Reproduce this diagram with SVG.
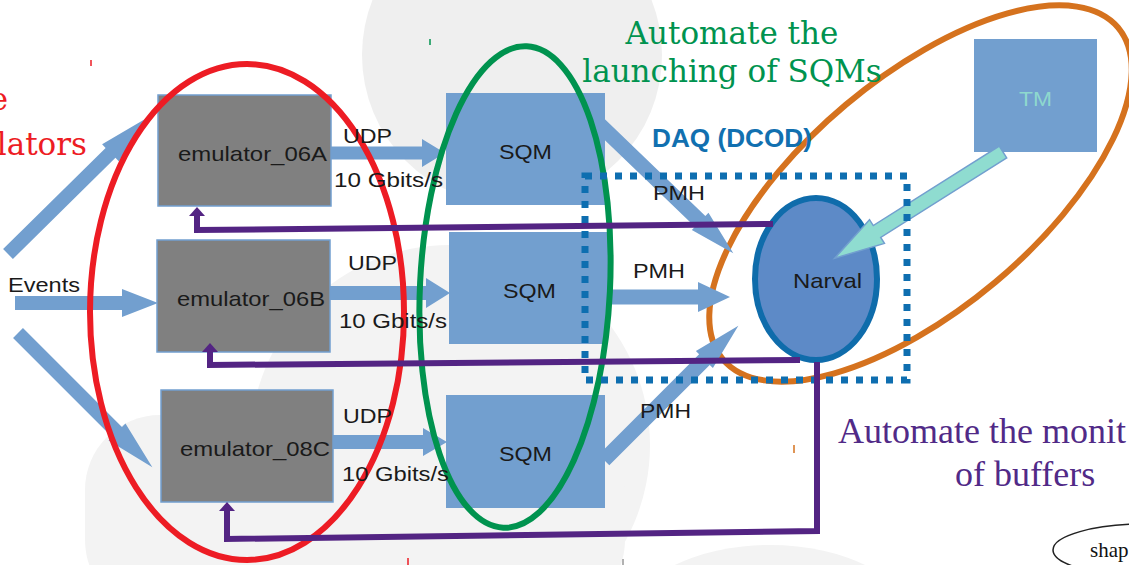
<svg xmlns="http://www.w3.org/2000/svg" width="1129" height="565" viewBox="0 0 1129 565">
<style>
.bg{fill:#f3f3f3}
.arr{fill:#729fcf}
.emu{fill:#808080;stroke:#729fcf;stroke-width:1.5}
.sqm{fill:#729fcf}
.lbl{font-family:"Liberation Sans",Arial,sans-serif;font-size:21px;fill:#1a1a1a}
.pur{fill:none;stroke:#532483;stroke-width:6}
.ser{font-family:"DejaVu Serif",serif;font-size:31px}
.tser{font-family:"Liberation Serif","Times New Roman",serif}
.tick{stroke-width:1.5}
</style>
<defs>
<marker id="ph" viewBox="0 -8 9 16" markerWidth="9" markerHeight="16" refX="0" refY="0" markerUnits="userSpaceOnUse" orient="auto">
<path d="M0,-8 L9,0 L0,8 Z" fill="#532483"/>
</marker>
</defs>
<rect width="1129" height="565" fill="#ffffff"/>
<g id="background">
<circle cx="512" cy="55" r="150" fill="#efefef"/>
<circle class="bg" cx="450" cy="445" r="200"/>
<rect class="bg" x="85" y="415" width="540" height="200" rx="75"/>
<ellipse class="bg" cx="770" cy="620" rx="140" ry="75"/>
</g>
<g id="orange-group">
<ellipse cx="920.5" cy="193.5" rx="258" ry="116" transform="rotate(-40 920.5 193.5)" fill="none" stroke="#d5721e" stroke-width="6"/>
</g>
<g id="connectors">
<path class="arr" d="M0,-7 H144 V-12 L192,0 L144,12 V7 H0 Z" transform="translate(8,254) rotate(-44.6)"/>
<path class="arr" d="M0,-7 H107 V-14 L143,0 L107,14 V7 H0 Z" transform="translate(15,303)"/>
<path class="arr" d="M0,-7 H140 V-12 L190,0 L140,12 V7 H0 Z" transform="translate(18,333) rotate(45)"/>
<path class="arr" d="M0,-6.5 H91 V-14 L114,0 L91,14 V6.5 H0 Z" transform="translate(331,153)"/>
<path class="arr" d="M0,-7 H96 V-15 L120,0 L96,15 V7 H0 Z" transform="translate(330,293)"/>
<path class="arr" d="M0,-7 H90 V-14 L114,0 L90,14 V7 H0 Z" transform="translate(333,442)"/>
<path class="arr" d="M0,-7.5 H139 V-12 L185,0 L139,12 V7.5 H0 Z" transform="translate(600,125) rotate(43.9)"/>
<path class="arr" d="M0,-7.5 H90 V-15 L122,0 L90,15 V7.5 H0 Z" transform="translate(608,297)"/>
<path class="arr" d="M0,-7.5 H142 V-12 L190,0 L142,12 V7.5 H0 Z" transform="translate(604,460) rotate(-45)"/>
</g>
<g id="emulator_06A"><rect class="emu" x="158" y="95" width="173" height="111"/><text class="lbl" x="178" y="161" textLength="149" lengthAdjust="spacingAndGlyphs">emulator_06A</text></g>
<g id="emulator_06B"><rect class="emu" x="157" y="240" width="173" height="112"/><text class="lbl" x="177" y="306" textLength="148" lengthAdjust="spacingAndGlyphs">emulator_06B</text></g>
<g id="emulator_08C"><rect class="emu" x="161" y="390" width="172" height="112"/><text class="lbl" x="180" y="456" textLength="150" lengthAdjust="spacingAndGlyphs">emulator_08C</text></g>
<g id="sqm_1"><rect class="sqm" x="446" y="93" width="159" height="112"/><text class="lbl" x="499" y="159" textLength="53" lengthAdjust="spacingAndGlyphs">SQM</text></g>
<g id="sqm_2"><rect class="sqm" x="449" y="232" width="159" height="112"/><text class="lbl" x="503" y="298" textLength="53" lengthAdjust="spacingAndGlyphs">SQM</text></g>
<g id="sqm_3"><rect class="sqm" x="446" y="395" width="159" height="113"/><text class="lbl" x="499" y="461" textLength="53" lengthAdjust="spacingAndGlyphs">SQM</text></g>
<g id="tm"><rect class="sqm" x="974" y="39" width="123" height="113"/><text x="1019" y="106" font-family="Liberation Sans, Arial, sans-serif" font-size="21" fill="#8ed8ce" textLength="33" lengthAdjust="spacingAndGlyphs">TM</text></g>
<g id="narval"><ellipse cx="816" cy="279" rx="61" ry="81" fill="#5d8ac7" stroke="#0f6cab" stroke-width="6"/><text class="lbl" x="793" y="288" textLength="69" lengthAdjust="spacingAndGlyphs">Narval</text></g>
<g id="tm-arrow">
<path d="M0,-7 H149 V-14 L199,0 L149,14 V7 H0 Z" transform="translate(1003,152) rotate(147.75)" fill="#8fdcd0" stroke="#729fcf" stroke-width="1.5"/>
</g>
<g id="red-group"><ellipse cx="247" cy="312" rx="157" ry="248" fill="none" stroke="#ed1c24" stroke-width="6"/></g>
<g id="green-group"><ellipse cx="515" cy="287" rx="95" ry="241" transform="rotate(2.8 515 287)" fill="none" stroke="#00934f" stroke-width="6"/></g>
<g id="daq">
<path d="M585,176 H907 V380 H585 Z" fill="none" stroke="#0e6eb0" stroke-width="7" stroke-dasharray="7 8"/>
<text x="652" y="147" font-family="Liberation Sans, Arial, sans-serif" font-size="25" font-weight="bold" fill="#1170b0" textLength="160" lengthAdjust="spacingAndGlyphs">DAQ (DCOD)</text>
</g>
<g id="feedback">
<polyline class="pur" points="773,224 197,230 197,216" marker-end="url(#ph)"/>
<polyline class="pur" points="800,360 210,365 210,352" marker-end="url(#ph)"/>
<polyline class="pur" points="817,362 817,531 227,539 227,511" marker-end="url(#ph)"/>
</g>
<g id="labels">
<text class="lbl" x="8" y="292" textLength="72" lengthAdjust="spacingAndGlyphs">Events</text>
<text class="lbl" x="343" y="143" textLength="49" lengthAdjust="spacingAndGlyphs">UDP</text>
<text class="lbl" x="334" y="187" textLength="109" lengthAdjust="spacingAndGlyphs">10 Gbits/s</text>
<text class="lbl" x="348" y="270" textLength="49" lengthAdjust="spacingAndGlyphs">UDP</text>
<text class="lbl" x="339" y="328" textLength="108" lengthAdjust="spacingAndGlyphs">10 Gbits/s</text>
<text class="lbl" x="343" y="423" textLength="49" lengthAdjust="spacingAndGlyphs">UDP</text>
<text class="lbl" x="342" y="481" textLength="107" lengthAdjust="spacingAndGlyphs">10 Gbits/s</text>
<text class="lbl" x="653" y="200" textLength="52" lengthAdjust="spacingAndGlyphs">PMH</text>
<text class="lbl" x="633" y="278" textLength="52" lengthAdjust="spacingAndGlyphs">PMH</text>
<text class="lbl" x="640" y="418" textLength="51" lengthAdjust="spacingAndGlyphs">PMH</text>
</g>
<g id="notes">
<text class="ser" x="8" y="110" text-anchor="end" fill="#ed1c24">e</text>
<text class="ser" x="87" y="155" text-anchor="end" fill="#ed1c24">lators</text>
<text class="ser" x="732" y="44" text-anchor="middle" fill="#00934f">Automate the</text>
<text class="ser" x="732" y="82" text-anchor="middle" fill="#00934f">launching of SQMs</text>
<text class="tser" x="838" y="443" font-size="36" fill="#512a87">Automate the monit</text>
<text class="tser" x="955" y="486" font-size="36" fill="#512a87">of buffers</text>
<ellipse cx="1145" cy="550" rx="92" ry="26" fill="none" stroke="#222222" stroke-width="1.5"/>
<text class="tser" x="1090" y="557" font-size="21" fill="#111111">shap</text>
</g>
<g id="ticks">
<line class="tick" x1="91" y1="60" x2="91" y2="66" stroke="#ed1c24"/>
<line class="tick" x1="430" y1="39" x2="430" y2="45" stroke="#00934f"/>
<line class="tick" x1="794" y1="445" x2="794" y2="453" stroke="#d5721e"/>
<line class="tick" x1="408" y1="558" x2="408" y2="565" stroke="#ed1c24"/>
<line class="tick" x1="623" y1="559" x2="623" y2="565" stroke="#999999"/>
</g>
</svg>
